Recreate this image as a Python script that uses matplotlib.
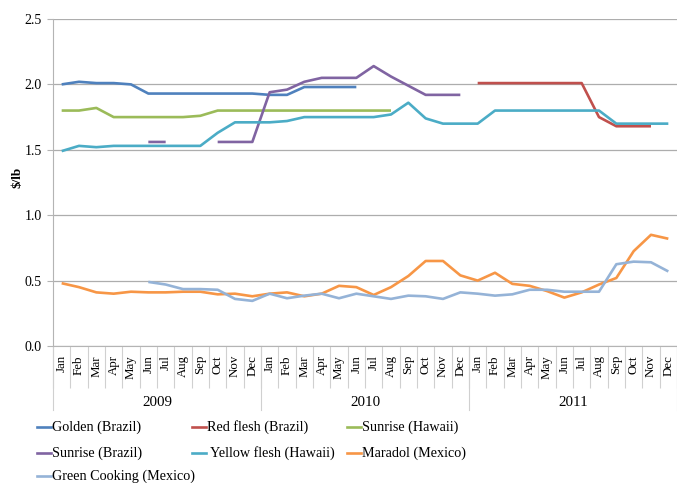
import numpy as np
import matplotlib
matplotlib.use("Agg")
import matplotlib.pyplot as plt
from matplotlib.lines import Line2D

plt.rcParams['font.family'] = ['Liberation Serif', 'DejaVu Serif']

nan = np.nan
months = ['Jan', 'Feb', 'Mar', 'Apr', 'May', 'Jun', 'Jul', 'Aug', 'Sep', 'Oct', 'Nov', 'Dec'] * 3
years = ['2009', '2010', '2011']

golden_brazil = [2.00, 2.02, 2.01, 2.01, 2.00, 1.93, 1.93, 1.93, 1.93, 1.93, 1.93, 1.93,
                 1.92, 1.92, 1.98, 1.98, 1.98, 1.98, nan, nan, nan, nan, nan, nan,
                 nan, nan, nan, nan, nan, nan, nan, nan, nan, nan, nan, nan]
red_flesh_brazil = [nan] * 24 + [2.01, 2.01, 2.01, 2.01, 2.01, 2.01, 2.01, 1.75, 1.68, 1.68, 1.68, nan]
sunrise_hawaii = [1.80, 1.80, 1.82, 1.75, 1.75, 1.75, 1.75, 1.75, 1.76, 1.80, 1.80, 1.80,
                  1.80, 1.80, 1.80, 1.80, 1.80, 1.80, 1.80, 1.80, nan, nan, nan, nan,
                  nan, nan, nan, nan, nan, nan, nan, nan, nan, nan, nan, nan]
sunrise_brazil = [nan, nan, nan, nan, nan, 1.56, 1.56, nan, nan, 1.56, 1.56, 1.56,
                  1.94, 1.96, 2.02, 2.05, 2.05, 2.05, 2.14, 2.06, 1.99, 1.92, 1.92, 1.92,
                  nan, nan, nan, nan, nan, nan, nan, nan, nan, nan, nan, nan]
yellow_flesh_hawaii = [1.49, 1.53, 1.52, 1.53, 1.53, 1.53, 1.53, 1.53, 1.53, 1.63, 1.71, 1.71,
                       1.71, 1.72, 1.75, 1.75, 1.75, 1.75, 1.75, 1.77, 1.86, 1.74, 1.70, 1.70,
                       1.70, 1.80, 1.80, 1.80, 1.80, 1.80, 1.80, 1.80, 1.70, 1.70, 1.70, 1.70]
maradol_mexico = [0.48, 0.45, 0.41, 0.40, 0.415, 0.41, 0.41, 0.415, 0.415, 0.395, 0.40, 0.38,
                  0.40, 0.41, 0.38, 0.40, 0.46, 0.45, 0.39, 0.45, 0.535, 0.65, 0.65, 0.54,
                  0.50, 0.56, 0.475, 0.46, 0.42, 0.37, 0.41, 0.47, 0.52, 0.725, 0.85, 0.82]
green_cooking_mexico = [nan, nan, nan, nan, nan, 0.49, 0.47, 0.435, 0.435, 0.43, 0.36, 0.345,
                        0.40, 0.365, 0.385, 0.40, 0.365, 0.40, 0.38, 0.36, 0.385, 0.38, 0.36, 0.41,
                        0.40, 0.385, 0.395, 0.43, 0.43, 0.415, 0.415, 0.415, 0.625, 0.645, 0.64, 0.57]

series = [
    ('Golden (Brazil)', golden_brazil, '#4F81BD'),
    ('Red flesh (Brazil)', red_flesh_brazil, '#C0504D'),
    ('Sunrise (Hawaii)', sunrise_hawaii, '#9BBB59'),
    ('Sunrise (Brazil)', sunrise_brazil, '#8064A2'),
    (' Yellow flesh (Hawaii)', yellow_flesh_hawaii, '#4BACC6'),
    ('Maradol (Mexico)', maradol_mexico, '#F79646'),
    ('Green Cooking (Mexico)', green_cooking_mexico, '#95B3D7'),
]

W, H = 677, 483
fig = plt.figure(figsize=(W / 100, H / 100), dpi=100)
ax = fig.add_axes([53 / W, 1 - 346 / H, 624 / W, 327 / H])

x = np.arange(len(months))
for name, vals, col in series:
    ax.plot(x, np.array(vals, dtype=float), color=col, lw=1.9, solid_capstyle='butt')

ax.set_xlim(-0.5, len(months) - 0.5)
ax.set_ylim(0, 2.5)
ax.set_yticks(np.arange(0, 2.51, 0.5))
ax.set_yticklabels([f'{v:.1f}' for v in np.arange(0, 2.51, 0.5)], fontsize=10)
ax.yaxis.grid(True, color='#ADADAD', lw=0.9)
ax.set_axisbelow(True)
for s in ['top', 'right']:
    ax.spines[s].set_visible(False)
ax.spines['left'].set_color('#B4B4B4')
ax.spines['bottom'].set_color('#B4B4B4')
ax.tick_params(axis='y', length=4, color='#B4B4B4', pad=4)

ax.set_xticks(x)
ax.set_xticklabels(months, rotation=90, fontsize=9.3)
ax.tick_params(axis='x', which='major', length=0, pad=6.5)
ax.set_xticks(np.arange(-0.5, len(months), 1), minor=True)
ax.tick_params(axis='x', which='minor', length=30, color='#D0D0D0', width=0.8)

trans = ax.get_xaxis_transform()
for i, yr in enumerate(years):
    ax.text(i * 12 + 5.5, -56 / 327, yr, transform=trans, ha='center', va='center', fontsize=10.8)
for b in [-0.5, 11.5, 23.5, 35.5]:
    ax.plot([b, b], [0, -64 / 327], transform=trans, color='#D0D0D0', lw=0.8, clip_on=False)

fig.text(18 / W, 1 - 177 / H, r'\$/lb', rotation=90, ha='center', va='center',
         fontsize=9.5, fontweight='bold')

# legend laid out like the original (row-wise, three columns)
col_x = [37, 192, 347]
row_y = [427, 453, 476]
for k, (name, vals, col) in enumerate(series):
    r, c = divmod(k, 3)
    hx = col_x[c]
    yy = 1 - row_y[r] / H
    fig.add_artist(Line2D([hx / W, (hx + 14) / W], [yy, yy], color=col, lw=1.9,
                          transform=fig.transFigure))
    fig.text((hx + 15) / W, yy, name, ha='left', va='center', fontsize=10.2)

fig.savefig('out.png', dpi=100)
